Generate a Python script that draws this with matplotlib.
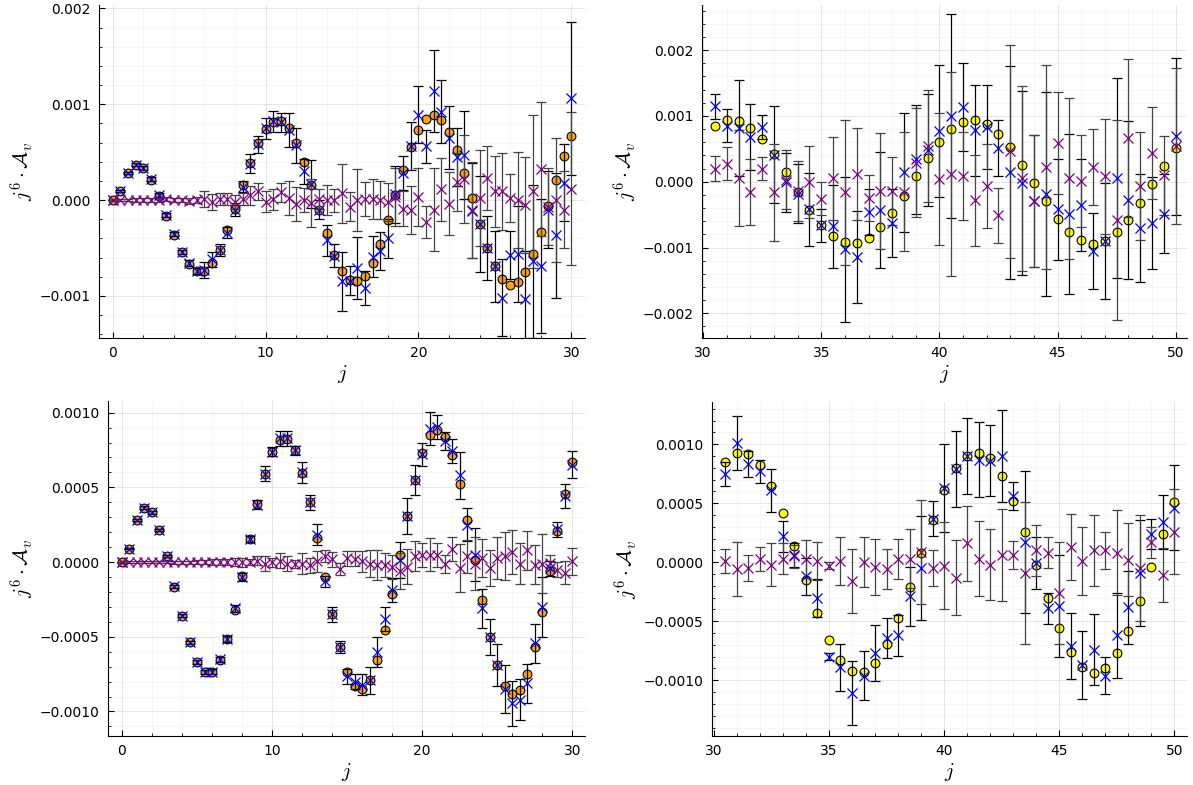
import numpy as np
import matplotlib
matplotlib.use("Agg")
from matplotlib import pyplot as plt
from matplotlib.ticker import MultipleLocator, FuncFormatter

plt.rcParams["mathtext.fontset"] = "cm"
plt.rcParams["font.family"] = "DejaVu Sans"

# sample grids
j_low = np.arange(0, 30.01, 0.5)
j_high = np.arange(30.5, 50.01, 0.5)

# exact values (circles), shared by top and bottom panels
exact_low = [0.0, 0.00009, 0.000284, 0.000365, 0.000332, 0.000214, 0.000042, -0.000165, -0.00036, -0.000538,
             -0.000668, -0.000737, -0.000737, -0.000658, -0.000518, -0.000318, -0.000094, 0.000157, 0.000387, 0.00059,
             0.000738, 0.000818, 0.000826, 0.000747, 0.000597, 0.0004, 0.00016, -0.000103, -0.000349, -0.00057,
             -0.000736, -0.00083, -0.00085, -0.00079, -0.000655, -0.000454, -0.000213, 0.000049, 0.000311, 0.000548,
             0.000732, 0.000848, 0.000884, 0.000837, 0.000714, 0.000523, 0.00028, 0.000016, -0.000253, -0.000499,
             -0.000691, -0.000828, -0.000884, -0.000857, -0.00075, -0.000566, -0.000331, -0.000063, 0.000206, 0.000456,
             0.000671]
exact_high = [0.00085, 0.00093, 0.00092, 0.00082, 0.00065, 0.00042, 0.00014, -0.00015, -0.00043, -0.00066,
              -0.00083, -0.00092, -0.00093, -0.00085, -0.00069, -0.00047, -0.00021, 0.00008, 0.00036, 0.00061,
              0.0008, 0.0009, 0.00093, 0.00088, 0.00073, 0.00052, 0.00026, -0.00002, -0.0003, -0.00056,
              -0.00076, -0.00089, -0.00094, -0.0009, -0.00077, -0.00058, -0.00033, -0.00004, 0.00024, 0.00051]

# top-left panel
blue_tl = [0.0, 0.00009, 0.000285, 0.00037, 0.00033, 0.000215, 0.00005, -0.00016, -0.000355, -0.00054,
           -0.00066, -0.00074, -0.00073, -0.00062, -0.00052, -0.00034, -0.0001, 0.00014, 0.00038, 0.00058,
           0.00075, 0.00082, 0.00081, 0.00073, 0.00057, 0.0003, 0.00017, -0.0001, -0.00042, -0.00058,
           -0.00085, -0.00084, -0.00071, -0.00092, -0.00059, -0.00053, -0.0004, 0.00006, 0.00028, 0.00056,
           0.00089, 0.00056, 0.00114, 0.00092, 0.00065, 0.00045, 0.00047, -0.00011, -0.00025, -0.0005,
           -0.00069, -0.00102, -0.00057, -0.00056, -0.00103, -0.00064, -0.00069, -0.0001, -0.00037, 0.00018,
           0.00106]
purple_tl = [0, 0, 0, 0, 0, 0, 0, 0.00001, 0, 0,
             -0.00001, 0, 0.00001, -0.00002, 0.00001, 0.00001, -0.00002, 0.00001, 0.00005, 0.00009,
             -0.00002, 0.00001, 0.00008, 0.00002, -0.00004, 0, -0.00003, 0.00001, 0, 0,
             0.00007, -0.00007, 0, 0.00001, 0.00001, 0, -0.00002, 0.00003, -0.00009, -0.0001,
             0.00003, -0.00023, -0.0001, 0.00011, -0.00004, 0.00019, 0.00022, -0.0001, 0.00002, 0.00023,
             0.00009, 0.00009, 0.00002, 0, -0.00005, 0.00009, 0.00032, -0.00007, 0, -0.0001,
             0.00012]
err_tl = [0.000005, 0.00001, 0.00001, 0.00002, 0.00002, 0.00002, 0.00002, 0.00002, 0.00002, 0.00002,
          0.00003, 0.00003, 0.00008, 0.00008, 0.00006, 0.00006, 0.00007, 0.00006, 0.0001, 0.00009,
          0.00011, 0.00011, 0.0001, 0.00018, 0.00018, 0.00013, 0.00025, 0.0001, 0.00016, 0.00012,
          0.00031, 0.00015, 0.00032, 0.00018, 0.00021, 0.0002, 0.0002, 0.0003, 0.00018, 0.00025,
          0.0003, 0.00017, 0.00043, 0.00033, 0.00033, 0.0003, 0.00046, 0.0005, 0.0005, 0.00033,
          0.00037, 0.0004, 0.00025, 0.0005, 0.0005, 0.0008, 0.0007, 0.0004, 0.00065, 0.0004,
          0.0008]

# top-right panel
blue_tr = [0.00115, 0.00085, 0.00081, 0.00068, 0.00083, 0.00041, -0.00001, -0.00018, -0.00042, -0.00066,
           -0.00068, -0.00103, -0.00114, -0.00046, -0.00043, -0.00063, 0.00014, 0.00034, 0.00048, 0.00077,
           0.001, 0.00113, 0.00078, 0.00083, 0.00051, 0.00014, -0.00002, -0.00029, -0.00018, -0.00042,
           -0.00049, -0.00035, -0.00105, -0.0009, 0.00005, -0.00028, -0.00071, -0.00063, -0.00049, 0.00069]
purple_tr = [0.0002, 0.00027, 0.00005, -0.00016, 0.0002, -0.00016, 0.00003, -0.00014, 0, -0.00026,
             0.00005, -0.00016, 0.00012, -0.00025, -0.00014, -0.00014, -0.00015, 0.00029, 0.00054, 0.00004,
             0.00012, 0.00009, -0.00028, -0.00007, -0.00051, 0.00046, 0.00005, -0.00029, 0.00022, 0.00059,
             0.00005, 0.00001, 0.00022, 0.00008, -0.00058, 0.00066, -0.00007, 0.00043, 0.0001, 0.00054]
err_tr = [0.00019, 0.00025, 0.00073, 0.0005, 0.00018, 0.00074, 0.00045, 0.00045, 0.00055, 0.00025,
          0.00063, 0.0011, 0.0007, 0.00035, 0.00088, 0.00052, 0.00091, 0.00083, 0.00085, 0.001,
          0.00155, 0.00067, 0.00069, 0.00064, 0.00042, 0.00162, 0.0014, 0.001, 0.00155, 0.00077,
          0.00122, 0.0007, 0.00058, 0.00088, 0.00152, 0.0012, 0.00082, 0.0007, 0.0006, 0.00119]

# bottom-left panel
blue_bl = [0.0, 0.00009, 0.000283, 0.000365, 0.000332, 0.000214, 0.00004, -0.000163, -0.00036, -0.000537,
           -0.000667, -0.000735, -0.000733, -0.000652, -0.000517, -0.00031, -0.0001, 0.000157, 0.000385, 0.00059,
           0.000738, 0.00083, 0.000828, 0.000747, 0.0006, 0.0004, 0.000183, -0.00013, -0.000349, -0.00057,
           -0.000763, -0.0008, -0.00082, -0.00079, -0.0006, -0.000383, -0.000186, 0.000016, 0.000311, 0.000548,
           0.00072, 0.000893, 0.000906, 0.00081, 0.000743, 0.00058, 0.00025, 0.00005, -0.000309, -0.0005,
           -0.000691, -0.00085, -0.000946, -0.00092, -0.000812, -0.000544, -0.000302, -0.00004, 0.000221, 0.000445,
           0.000653]
purple_bl = [0, 0, 0, 0, 0, 0, 0, 0, 0, 0,
             0, 0, 0, 0, 0, 0, 0, 0, 0.00001, -0.00001,
             0, 0.00001, -0.00001, -0.000013, -0.00001, -0.00002, 0.000005, 0.000038, 0.00002, -0.000045,
             0.000027, 0.000022, 0.000005, -0.00001, -0.00002, -0.000018, -0.00003, -0.00006, -0.00003, 0.00004,
             0.000045, 0.00005, 0.000045, -0.00001, 0.000087, -0.00004, 0.00004, -0.00001, 0.000027, -0.00004,
             0.000027, 0.00004, 0.000067, -0.00001, 0.00008, -0.000018, -0.00001, -0.000005, -0.00005, -0.00007,
             0.000005]
err_bl = [0.000003, 0.000005, 0.000006, 0.000007, 0.000008, 0.000008, 0.000009, 0.00001, 0.00001, 0.00001,
          0.000012, 0.000015, 0.000018, 0.00002, 0.00002, 0.000025, 0.00003, 0.00002, 0.00003, 0.00005,
          0.00003, 0.00005, 0.00005, 0.00003, 0.00007, 0.00005, 0.00007, 0.00004, 0.00005, 0.00004,
          0.00005, 0.00005, 0.00007, 0.00009, 0.0001, 0.00008, 0.00008, 0.00012, 0.00012, 0.0001,
          0.00008, 0.00011, 0.00008, 0.00006, 0.00008, 0.00016, 0.00011, 0.00018, 0.00013, 0.00012,
          0.00014, 0.00016, 0.00015, 0.00014, 0.00013, 0.00013, 0.0002, 0.00005, 0.00005, 0.00008,
          0.00009]

# bottom-right panel
blue_br = [0.00075, 0.00101, 0.00083, 0.00077, 0.00061, 0.00022, 0.00006, -0.00012, -0.0003, -0.0008,
           -0.00089, -0.00111, -0.00096, -0.00077, -0.00064, -0.00062, -0.00029, -0.00005, 0.00037, 0.00063,
           0.00079, 0.0009, 0.00087, 0.00086, 0.0009, 0.00056, 0.00017, -0.00001, -0.00039, -0.00037,
           -0.00071, -0.00087, -0.00074, -0.00096, -0.00062, -0.00038, -0.00009, 0.00024, 0.00034, 0.00046]
purple_br = [0.00001, -0.00006, -0.00005, 0.00003, -0.00002, 0.00003, 0.00005, 0.00003, 0.00001, -0.00003,
             0.00001, -0.00016, 0, -0.00004, -0.00006, 0.00003, 0.00003, 0.00009, -0.00005, -0.00003,
             -0.00013, 0.00016, 0.00003, -0.00002, 0.00006, 0.00006, -0.00009, 0.0001, 0.00008, -0.00026,
             0.00013, 0.00001, 0.0001, 0.0001, 0.00008, 0.00002, -0.00005, 0.00017, -0.00011, 0.00026]
err_br = [0.0001, 0.00023, 0.00011, 0.0001, 0.00018, 0.00013, 0.0001, 0.00016, 0.00016, 0.00003,
          0.0002, 0.00027, 0.00021, 0.00024, 0.00017, 0.00017, 0.00025, 0.00044, 0.00015, 0.00037,
          0.00032, 0.00032, 0.00032, 0.0003, 0.00039, 0.00012, 0.0006, 0.00022, 0.00013, 0.00043,
          0.00028, 0.00029, 0.0003, 0.00016, 0.00036, 0.00031, 0.00045, 0.00013, 0.00023, 0.00036]


def fmt(decimals):
    def f(v, _):
        v = round(v, 8)
        if abs(v) < 1e-12:
            v = 0.0
        return f"{v:.{decimals}f}".replace("-", "\u2212")
    return FuncFormatter(f)


def panel(rect, j, exact, exact_color, blue, purple, err, xlim, ylim, xmaj, xmin, ymaj, ymin, dec):
    ax = fig.add_axes(rect)
    ax.scatter(j, exact, s=40, c=exact_color, edgecolors="black", linewidths=0.8, zorder=3)
    ax.errorbar(j, blue, yerr=err, fmt="none", ecolor="black", elinewidth=0.9,
                capsize=3.4, capthick=0.9, zorder=4)
    ax.plot(j, blue, "x", color="blue", ms=7.5, mew=0.9, zorder=5)
    ax.errorbar(j, purple, yerr=err, fmt="none", ecolor="#444444", elinewidth=0.9,
                capsize=3.4, capthick=0.9, zorder=4)
    ax.plot(j, purple, "x", color="purple", ms=7.5, mew=0.9, zorder=5)

    ax.set_xlim(*xlim)
    ax.set_ylim(*ylim)
    ax.xaxis.set_major_locator(MultipleLocator(xmaj))
    ax.xaxis.set_minor_locator(MultipleLocator(xmin))
    ax.yaxis.set_major_locator(MultipleLocator(ymaj))
    ax.yaxis.set_minor_locator(MultipleLocator(ymin))
    ax.yaxis.set_major_formatter(fmt(dec))
    ax.grid(True, which="major", color="black", alpha=0.1, lw=0.7)
    ax.grid(True, which="minor", color="black", alpha=0.05, lw=0.5)
    ax.set_axisbelow(True)
    for s in ["top", "right"]:
        ax.spines[s].set_visible(False)
    ax.tick_params(which="both", direction="in", labelsize=10, pad=6)
    ax.tick_params(which="major", length=4)
    ax.tick_params(which="minor", length=2)
    ax.set_xlabel(r"$j$", fontsize=15, labelpad=2)
    ax.set_ylabel(r"$j^6 \cdot \mathcal{A}_v$", fontsize=15, labelpad=2)
    return ax


fig = plt.figure(figsize=(11.93, 7.85), dpi=100)
W, H = 1193, 785


def rect(l, r, t, b):
    return [l / W, 1 - b / H, (r - l) / W, (b - t) / H]


panel(rect(99, 585, 5, 338), j_low, exact_low, "orange", blue_tl, purple_tl, err_tl,
      (-0.9, 30.9), (-0.00144, 0.002035), 10, 2, 0.001, 0.0002, 3)
panel(rect(702, 1187, 5, 338), j_high, exact_high, "yellow", blue_tr, purple_tr, err_tr,
      (29.95, 50.48), (-0.002375, 0.002685), 5, 1, 0.001, 0.0002, 3)
panel(rect(108, 585, 401, 736), j_low, exact_low, "orange", blue_bl, purple_bl, err_bl,
      (-0.93, 30.85), (-0.001164, 0.001078), 10, 2, 0.0005, 0.0001, 4)
panel(rect(712, 1187, 402, 736), j_high, exact_high, "yellow", blue_br, purple_br, err_br,
      (29.92, 50.55), (-0.001472, 0.001358), 5, 1, 0.0005, 0.0001, 4)

fig.savefig("out.png", dpi=100)
